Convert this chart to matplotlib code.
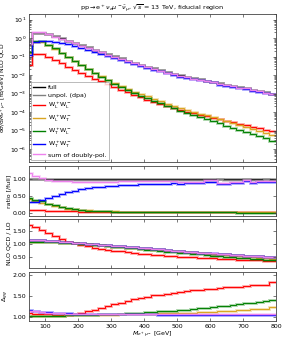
import numpy as np
import matplotlib as mpl
mpl.use("Agg")
import matplotlib.pyplot as plt
from matplotlib.ticker import FormatStrFormatter, MultipleLocator

# bin edges in M_{e+mu-} [GeV]: first bin 50-60, then 20 GeV bins
edges = np.array([50] + list(range(60, 801, 20)))

# full NLO QCD distribution, log10(dsigma/dM [fb/GeV])
full_log = [-0.40, 0.27, 0.30, 0.22, 0.10, -0.02, -0.14, -0.26, -0.38, -0.50,
            -0.62, -0.74, -0.86, -0.98, -1.10, -1.22, -1.33, -1.44, -1.54, -1.64,
            -1.74, -1.84, -1.93, -2.02, -2.09, -2.16, -2.23, -2.30, -2.37, -2.44,
            -2.51, -2.58, -2.65, -2.72, -2.79, -2.86, -2.93, -3.00]

# ratios to full
r_unpol = [1.00, 1.00, 1.00, 0.99, 0.99, 0.99, 0.99, 0.99, 0.99, 0.99,
           0.99, 0.99, 0.99, 0.99, 0.99, 0.99, 0.99, 0.99, 0.99, 0.99,
           0.99, 0.99, 0.99, 0.99, 0.99, 0.99, 0.99, 0.99, 0.99, 1.00,
           0.98, 0.99, 0.99, 1.00, 0.99, 0.99, 1.00, 0.99]
r_LL = [0.085, 0.075, 0.066, 0.058, 0.051, 0.045, 0.040, 0.036, 0.032, 0.029,
        0.027, 0.025, 0.023, 0.021, 0.020, 0.019, 0.018, 0.017, 0.016, 0.0155,
        0.015, 0.0145, 0.014, 0.0135, 0.013, 0.0127, 0.0124, 0.012, 0.0117, 0.0114,
        0.011, 0.0107, 0.0104, 0.0101, 0.0099, 0.0097, 0.0095, 0.0093]
r_LT = [0.40, 0.34, 0.30, 0.25, 0.20, 0.16, 0.125, 0.10, 0.080, 0.066,
        0.056, 0.048, 0.041, 0.036, 0.032, 0.029, 0.027, 0.026, 0.0245, 0.023,
        0.0215, 0.020, 0.0187, 0.0175, 0.0163, 0.0152, 0.0142, 0.0132, 0.0123, 0.0115,
        0.0107, 0.0100, 0.0093, 0.0087, 0.0079, 0.0071, 0.0063, 0.0056]
r_TL = [0.45, 0.39, 0.34, 0.27, 0.22, 0.17, 0.13, 0.10, 0.080, 0.065,
        0.055, 0.045, 0.038, 0.032, 0.028, 0.025, 0.023, 0.021, 0.019, 0.0175,
        0.016, 0.0148, 0.0137, 0.0126, 0.0113, 0.0102, 0.0092, 0.0083, 0.0075, 0.0067,
        0.0060, 0.0054, 0.0049, 0.0044, 0.0040, 0.0036, 0.0032, 0.0029]
r_TT = [0.32, 0.32, 0.37, 0.44, 0.51, 0.57, 0.62, 0.66, 0.70, 0.73,
        0.76, 0.78, 0.80, 0.81, 0.82, 0.83, 0.84, 0.85, 0.86, 0.86,
        0.87, 0.87, 0.88, 0.87, 0.88, 0.88, 0.88, 0.93, 0.93, 0.85,
        0.85, 0.88, 0.88, 0.96, 0.89, 0.91, 0.91, 0.92]
r_sum = [1.18, 1.09, 1.05, 0.99, 0.96, 0.95, 0.94, 0.93, 0.93, 0.93,
         0.93, 0.93, 0.93, 0.93, 0.94, 0.94, 0.94, 0.94, 0.94, 0.94,
         0.94, 0.94, 0.94, 0.92, 0.93, 0.93, 0.93, 0.97, 0.97, 0.89,
         0.89, 0.92, 0.92, 0.99, 0.92, 0.94, 0.94, 0.95]

# NLO QCD / LO
k_full = [1.15, 1.15, 1.14, 1.13, 1.12, 1.10, 1.08, 1.06, 1.04, 1.02,
          1.00, 0.98, 0.96, 0.94, 0.92, 0.90, 0.88, 0.86, 0.84, 0.82,
          0.80, 0.78, 0.76, 0.74, 0.72, 0.70, 0.68, 0.66, 0.645, 0.63,
          0.615, 0.60, 0.585, 0.57, 0.555, 0.54, 0.525, 0.51]
k_LL = [1.72, 1.66, 1.54, 1.41, 1.29, 1.19, 1.10, 1.03, 0.97, 0.92,
        0.87, 0.83, 0.79, 0.76, 0.73, 0.69, 0.665, 0.645, 0.62, 0.60,
        0.58, 0.56, 0.545, 0.53, 0.515, 0.50, 0.49, 0.475, 0.46, 0.45,
        0.44, 0.43, 0.42, 0.41, 0.40, 0.385, 0.37, 0.35]
k_LT = [1.09, 1.09, 1.09, 1.08, 1.07, 1.06, 1.05, 1.03, 1.01, 0.99,
        0.97, 0.95, 0.93, 0.91, 0.89, 0.87, 0.85, 0.83, 0.81, 0.79,
        0.77, 0.75, 0.73, 0.71, 0.69, 0.67, 0.65, 0.63, 0.615, 0.60,
        0.585, 0.57, 0.55, 0.53, 0.51, 0.49, 0.465, 0.44]
k_TL = [1.08, 1.08, 1.08, 1.08, 1.07, 1.06, 1.05, 1.03, 1.01, 0.99,
        0.97, 0.95, 0.93, 0.91, 0.89, 0.87, 0.845, 0.82, 0.795, 0.77,
        0.745, 0.72, 0.695, 0.67, 0.65, 0.63, 0.61, 0.59, 0.57, 0.55,
        0.53, 0.51, 0.49, 0.47, 0.45, 0.43, 0.41, 0.39]
k_TT = [1.15, 1.15, 1.14, 1.13, 1.12, 1.10, 1.08, 1.06, 1.04, 1.02,
        1.00, 0.98, 0.96, 0.94, 0.92, 0.90, 0.88, 0.86, 0.84, 0.82,
        0.80, 0.78, 0.76, 0.74, 0.72, 0.70, 0.68, 0.66, 0.65, 0.63,
        0.62, 0.60, 0.59, 0.57, 0.56, 0.54, 0.53, 0.51]

# Delta_gg
d_LL = [1.08, 1.07, 1.06, 1.06, 1.05, 1.05, 1.05, 1.06, 1.09, 1.13,
        1.17, 1.21, 1.26, 1.30, 1.34, 1.38, 1.42, 1.45, 1.48, 1.51,
        1.53, 1.55, 1.57, 1.59, 1.61, 1.63, 1.65, 1.67, 1.66, 1.68,
        1.70, 1.71, 1.72, 1.74, 1.75, 1.77, 1.76, 1.82]
d_LT = [1.03, 1.03, 1.03, 1.03, 1.03, 1.03, 1.04, 1.04, 1.04, 1.04,
        1.05, 1.05, 1.05, 1.05, 1.06, 1.06, 1.06, 1.07, 1.07, 1.07,
        1.08, 1.08, 1.09, 1.09, 1.10, 1.10, 1.11, 1.12, 1.12, 1.13,
        1.14, 1.15, 1.16, 1.17, 1.18, 1.19, 1.19, 1.24]
d_TL = [1.02, 1.02, 1.03, 1.03, 1.03, 1.03, 1.04, 1.04, 1.04, 1.05,
        1.05, 1.06, 1.06, 1.07, 1.07, 1.08, 1.09, 1.10, 1.11, 1.12,
        1.13, 1.14, 1.15, 1.16, 1.17, 1.19, 1.20, 1.22, 1.23, 1.25,
        1.27, 1.28, 1.30, 1.32, 1.34, 1.36, 1.38, 1.39]
d_TT = [1.16, 1.14, 1.12, 1.11, 1.10, 1.09, 1.08, 1.07, 1.07, 1.06,
        1.06, 1.06, 1.06, 1.06, 1.06, 1.06, 1.06, 1.06, 1.06, 1.06,
        1.05, 1.05, 1.05, 1.05, 1.05, 1.05, 1.05, 1.05, 1.05, 1.05,
        1.05, 1.05, 1.05, 1.05, 1.05, 1.05, 1.05, 1.05]
d_sum = [1.15, 1.13, 1.11, 1.10, 1.09, 1.08, 1.07, 1.07, 1.06, 1.06,
         1.06, 1.06, 1.06, 1.06, 1.06, 1.06, 1.06, 1.06, 1.06, 1.06,
         1.06, 1.06, 1.06, 1.06, 1.06, 1.06, 1.06, 1.06, 1.06, 1.06,
         1.06, 1.06, 1.06, 1.06, 1.06, 1.06, 1.06, 1.06]

labels = ["full", "unpol. (dpa)",
          r"W$_\mathrm{L}^+$W$_\mathrm{L}^-$", r"W$_\mathrm{L}^+$W$_\mathrm{T}^-$",
          r"W$_\mathrm{T}^+$W$_\mathrm{L}^-$", r"W$_\mathrm{T}^+$W$_\mathrm{T}^-$",
          "sum of doubly-pol."]
colors = ["black", "gray", "red", "goldenrod", "green", "blue", "violet"]

full = 10 ** np.array(full_log)
ratios = [np.ones_like(full), r_unpol, r_LL, r_LT, r_TL, r_TT, r_sum]
kfacs = [k_full, k_full, k_LL, k_LT, k_TL, k_TT, k_TT]
deltas = [None, None, d_LL, d_LT, d_TL, d_TT, d_sum]

fs = 4.5
plt.rcParams.update({"font.size": fs, "axes.linewidth": 0.6,
                     "axes.edgecolor": "#444444"})

fig = plt.figure(figsize=(2.88, 3.42), dpi=100)
L, W = 29 / 288, 247 / 288


def px_axes(top, bottom):
    return fig.add_axes([L, (342 - bottom) / 342, W, (bottom - top) / 342])


ax0 = px_axes(14, 162)
ax1 = px_axes(166, 216)
ax2 = px_axes(219, 268)
ax3 = px_axes(272, 321)
axes = [ax0, ax1, ax2, ax3]


def draw(ax, vals, color, label=None):
    ax.stairs(vals, edges, baseline=None, color=color, lw=2.0, alpha=0.35)
    ax.stairs(vals, edges, baseline=None, color=color, lw=0.7, label=label)


for lab, col, r, k, d in zip(labels, colors, ratios, kfacs, deltas):
    draw(ax0, full * np.array(r), col, lab)
    draw(ax1, np.array(r), col)
    draw(ax2, np.array(k), col)
    if d is not None:
        draw(ax3, np.array(d), col)

ax0.set_yscale("log")
ax0.set_ylim(2e-7, 2e1)
ax0.set_ylabel(r"d$\sigma$/d$M_{e^+\mu^-}$ [fb/GeV] NLO QCD", labelpad=0.5,
               fontsize=4.3)
ax0.set_title(r"pp$\rightarrow$e$^+\nu_e\mu^-\bar{\nu}_\mu$, $\sqrt{s}$ = 13 TeV, fiducial region",
              fontsize=4.6, pad=3)
leg = ax0.legend(loc="lower left", fontsize=fs, frameon=True, fancybox=False,
                 edgecolor="#888888", handlelength=1.8, borderaxespad=0.3,
                 labelspacing=0.4, handletextpad=0.6, borderpad=0.4)
leg.get_frame().set_linewidth(0.5)
for h in leg.get_lines():
    h.set_linewidth(1.0)

ax1.set_ylim(-0.1, 1.4)
ax1.yaxis.set_major_locator(MultipleLocator(0.5))
ax1.set_ylabel("ratio [/full]", labelpad=1)

ax2.set_ylim(0.1, 1.95)
ax2.yaxis.set_major_locator(MultipleLocator(0.5))
ax2.set_ylabel("NLO QCD / LO", labelpad=1)

ax3.set_ylim(0.9, 2.07)
ax3.yaxis.set_major_locator(MultipleLocator(0.5))
ax3.set_ylabel(r"$\Delta_{gg}$", labelpad=1)
ax3.set_xlabel(r"$M_{e^+\mu^-}$ [GeV]", labelpad=1)

for ax in axes:
    ax.set_xlim(50, 800)
    ax.xaxis.set_major_locator(MultipleLocator(100))
    ax.tick_params(which="both", direction="in", top=True, right=True,
                   labelsize=fs, width=0.5, pad=2, colors="#444444",
                   labelcolor="black")
    ax.tick_params(which="major", length=2.5)
    ax.tick_params(which="minor", length=1.3)
    if ax is not ax3:
        ax.tick_params(labelbottom=False)
    if ax is not ax0:
        ax.yaxis.set_major_formatter(FormatStrFormatter("%.2f"))

fig.savefig("out.png", dpi=100)
